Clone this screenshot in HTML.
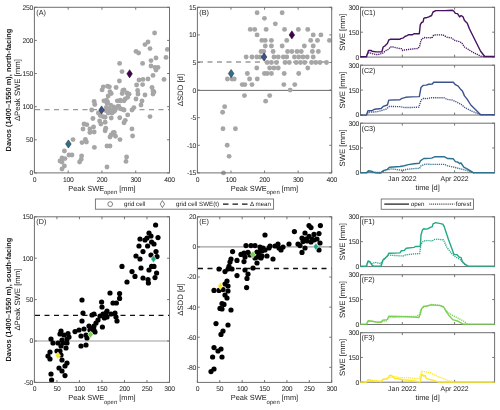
<!DOCTYPE html><html><head><meta charset="utf-8"><style>html,body{margin:0;padding:0;background:#fff;width:500px;height:410px;overflow:hidden}svg{display:block;will-change:transform}text{text-rendering:geometricPrecision}</style></head><body><svg width="500" height="410" viewBox="0 0 500 410">
<style>.t{font-family:"Liberation Sans", sans-serif;font-size:6.8px;fill:#1a1a1a;letter-spacing:-0.3px} .p{font-family:"Liberation Sans", sans-serif;font-size:7.2px;fill:#1a1a1a} .p2{font-family:"Liberation Sans", sans-serif;font-size:6.9px;fill:#1a1a1a} .l{font-family:"Liberation Sans", sans-serif;font-size:7.4px;fill:#1a1a1a} .b{font-family:"Liberation Sans", sans-serif;font-size:7.45px;font-weight:bold;fill:#1a1a1a} .y{font-family:"Liberation Sans", sans-serif;font-size:7.75px;fill:#1a1a1a} .g{font-family:"Liberation Sans", sans-serif;font-size:6.2px;fill:#1a1a1a}</style>
<rect width="500" height="410" fill="#fff"/>
<polyline points="35,109.67 169.5,109.67" fill="none" stroke="#9a9a9a" stroke-width="1.4" stroke-linejoin="round" stroke-dasharray="5,4.5"/>
<g fill="#a6a6a6"><circle cx="103.29" cy="86.83" r="2.45"/><circle cx="107.56" cy="86.22" r="2.45"/><circle cx="109.39" cy="86.83" r="2.45"/><circle cx="116.1" cy="87.44" r="2.45"/><circle cx="102.07" cy="89.88" r="2.45"/><circle cx="110" cy="91.71" r="2.45"/><circle cx="111.22" cy="93.54" r="2.45"/><circle cx="124.02" cy="89.88" r="2.45"/><circle cx="122.2" cy="93.54" r="2.45"/><circle cx="127.07" cy="92.93" r="2.45"/><circle cx="128.9" cy="94.15" r="2.45"/><circle cx="108.17" cy="95.98" r="2.45"/><circle cx="94.15" cy="101.46" r="2.45"/><circle cx="94.76" cy="104.51" r="2.45"/><circle cx="103.9" cy="100.85" r="2.45"/><circle cx="107.56" cy="102.07" r="2.45"/><circle cx="117.32" cy="100.85" r="2.45"/><circle cx="120.37" cy="100.24" r="2.45"/><circle cx="125.24" cy="99.02" r="2.45"/><circle cx="127.68" cy="97.2" r="2.45"/><circle cx="124.02" cy="100.85" r="2.45"/><circle cx="91.71" cy="110" r="2.45"/><circle cx="106.34" cy="107.56" r="2.45"/><circle cx="109.39" cy="108.78" r="2.45"/><circle cx="111.22" cy="110.61" r="2.45"/><circle cx="113.05" cy="111.83" r="2.45"/><circle cx="115.49" cy="109.39" r="2.45"/><circle cx="117.93" cy="106.34" r="2.45"/><circle cx="120.37" cy="108.78" r="2.45"/><circle cx="122.8" cy="109.39" r="2.45"/><circle cx="113.66" cy="106.95" r="2.45"/><circle cx="105.73" cy="110.61" r="2.45"/><circle cx="108.17" cy="113.05" r="2.45"/><circle cx="98.41" cy="113.05" r="2.45"/><circle cx="100.24" cy="115.49" r="2.45"/><circle cx="103.29" cy="116.71" r="2.45"/><circle cx="105.12" cy="117.32" r="2.45"/><circle cx="111.22" cy="117.93" r="2.45"/><circle cx="119.76" cy="117.68" r="2.45"/><circle cx="127.68" cy="114.88" r="2.45"/><circle cx="131.95" cy="110" r="2.45"/><circle cx="92.93" cy="118.54" r="2.45"/><circle cx="99.63" cy="120.98" r="2.45"/><circle cx="105.12" cy="122.2" r="2.45"/><circle cx="100.85" cy="124.02" r="2.45"/><circle cx="125.24" cy="120.37" r="2.45"/><circle cx="124.02" cy="122.8" r="2.45"/><circle cx="86.83" cy="124.63" r="2.45"/><circle cx="93.54" cy="127.07" r="2.45"/><circle cx="89.88" cy="128.9" r="2.45"/><circle cx="94.15" cy="131.95" r="2.45"/><circle cx="89.88" cy="132.56" r="2.45"/><circle cx="105.73" cy="128.29" r="2.45"/><circle cx="105.12" cy="130.73" r="2.45"/><circle cx="114.27" cy="132.56" r="2.45"/><circle cx="131.95" cy="128.9" r="2.45"/><circle cx="154.6" cy="33" r="2.45"/><circle cx="145" cy="44.6" r="2.45"/><circle cx="148" cy="42" r="2.45"/><circle cx="150" cy="48.6" r="2.45"/><circle cx="136" cy="51.4" r="2.45"/><circle cx="138.6" cy="53" r="2.45"/><circle cx="167.4" cy="49.4" r="2.45"/><circle cx="166" cy="57.4" r="2.45"/><circle cx="156" cy="58" r="2.45"/><circle cx="151" cy="60.6" r="2.45"/><circle cx="119.6" cy="63.4" r="2.45"/><circle cx="142.6" cy="63.4" r="2.45"/><circle cx="151" cy="66" r="2.45"/><circle cx="155" cy="67.4" r="2.45"/><circle cx="158" cy="67.4" r="2.45"/><circle cx="156" cy="70" r="2.45"/><circle cx="122" cy="71.6" r="2.45"/><circle cx="153" cy="75.4" r="2.45"/><circle cx="164" cy="79.4" r="2.45"/><circle cx="119.4" cy="81" r="2.45"/><circle cx="139" cy="80" r="2.45"/><circle cx="143" cy="79.4" r="2.45"/><circle cx="148" cy="79" r="2.45"/><circle cx="142.6" cy="84.6" r="2.45"/><circle cx="73" cy="139.6" r="2.45"/><circle cx="82" cy="142.6" r="2.45"/><circle cx="64.4" cy="151" r="2.45"/><circle cx="69" cy="155" r="2.45"/><circle cx="72" cy="155" r="2.45"/><circle cx="62" cy="158" r="2.45"/><circle cx="65" cy="158.6" r="2.45"/><circle cx="60" cy="161" r="2.45"/><circle cx="62" cy="162" r="2.45"/><circle cx="81.6" cy="156" r="2.45"/><circle cx="81.2" cy="159.4" r="2.45"/><circle cx="79.6" cy="162" r="2.45"/><circle cx="64.4" cy="166" r="2.45"/><circle cx="62" cy="169" r="2.45"/><circle cx="83" cy="129" r="2.45"/><circle cx="84" cy="124" r="2.45"/><circle cx="85.4" cy="139.4" r="2.45"/><circle cx="86.4" cy="142" r="2.45"/><circle cx="94.4" cy="147.4" r="2.45"/><circle cx="136" cy="99" r="2.45"/><circle cx="142" cy="101" r="2.45"/><circle cx="141" cy="105" r="2.45"/><circle cx="138" cy="94" r="2.45"/><circle cx="145" cy="95" r="2.45"/><circle cx="153" cy="94" r="2.45"/><circle cx="154" cy="92" r="2.45"/><circle cx="150" cy="116.6" r="2.45"/><circle cx="132.6" cy="136" r="2.45"/><circle cx="120" cy="139.6" r="2.45"/><circle cx="126.6" cy="157" r="2.45"/><circle cx="126" cy="161.4" r="2.45"/><circle cx="107" cy="167" r="2.45"/><circle cx="107" cy="146" r="2.45"/><circle cx="110" cy="146" r="2.45"/><circle cx="107.1" cy="103.3" r="2.45"/><circle cx="110.7" cy="105.1" r="2.45"/><circle cx="114.4" cy="111.2" r="2.45"/><circle cx="118.7" cy="106.3" r="2.45"/><circle cx="124.1" cy="110" r="2.45"/><circle cx="112" cy="113" r="2.45"/><circle cx="106.5" cy="100.2" r="2.45"/><circle cx="133.9" cy="107.6" r="2.45"/><circle cx="122.9" cy="90.5" r="2.45"/><circle cx="129" cy="94.1" r="2.45"/><circle cx="120.5" cy="100.9" r="2.45"/><circle cx="137.6" cy="90.5" r="2.45"/><circle cx="113.2" cy="132.6" r="2.45"/><circle cx="111" cy="135" r="2.45"/><circle cx="113.5" cy="133.2" r="2.45"/><circle cx="115.5" cy="136.2" r="2.45"/><circle cx="110" cy="137" r="2.45"/><circle cx="136.6" cy="85" r="2.45"/><circle cx="152" cy="87.4" r="2.45"/><circle cx="153" cy="91" r="2.45"/></g>
<path d="M68.4 139.9L71.2 144L68.4 148.1L65.6 144Z" fill="#2c728e" stroke="#1a1a1a" stroke-width="0.5"/>
<path d="M101.6 105.9L104.4 110L101.6 114.1L98.8 110Z" fill="#3b528b" stroke="#1a1a1a" stroke-width="0.5"/>
<path d="M129.6 69.7L132.4 73.8L129.6 77.9L126.8 73.8Z" fill="#440154" stroke="#1a1a1a" stroke-width="0.5"/>
<rect x="34.4" y="7.3" width="135.1" height="165.6" fill="none" stroke="#6f6f6f" stroke-width="1"/>
<line x1="34.4" y1="172.9" x2="34.4" y2="170.5" stroke="#6f6f6f" stroke-width="0.95"/>
<line x1="34.4" y1="7.3" x2="34.4" y2="9.7" stroke="#6f6f6f" stroke-width="0.95"/>
<text x="34.4" y="181.5" text-anchor="middle" class="t">0</text>
<line x1="68.17" y1="172.9" x2="68.17" y2="170.5" stroke="#6f6f6f" stroke-width="0.95"/>
<line x1="68.17" y1="7.3" x2="68.17" y2="9.7" stroke="#6f6f6f" stroke-width="0.95"/>
<text x="68.17" y="181.5" text-anchor="middle" class="t">100</text>
<line x1="101.95" y1="172.9" x2="101.95" y2="170.5" stroke="#6f6f6f" stroke-width="0.95"/>
<line x1="101.95" y1="7.3" x2="101.95" y2="9.7" stroke="#6f6f6f" stroke-width="0.95"/>
<text x="101.95" y="181.5" text-anchor="middle" class="t">200</text>
<line x1="135.72" y1="172.9" x2="135.72" y2="170.5" stroke="#6f6f6f" stroke-width="0.95"/>
<line x1="135.72" y1="7.3" x2="135.72" y2="9.7" stroke="#6f6f6f" stroke-width="0.95"/>
<text x="135.72" y="181.5" text-anchor="middle" class="t">300</text>
<line x1="169.5" y1="172.9" x2="169.5" y2="170.5" stroke="#6f6f6f" stroke-width="0.95"/>
<line x1="169.5" y1="7.3" x2="169.5" y2="9.7" stroke="#6f6f6f" stroke-width="0.95"/>
<text x="169.5" y="181.5" text-anchor="middle" class="t">400</text>
<line x1="34.4" y1="172.9" x2="36.8" y2="172.9" stroke="#6f6f6f" stroke-width="0.95"/>
<line x1="169.5" y1="172.9" x2="167.1" y2="172.9" stroke="#6f6f6f" stroke-width="0.95"/>
<text x="32.9" y="175.3" text-anchor="end" class="t">0</text>
<line x1="34.4" y1="139.78" x2="36.8" y2="139.78" stroke="#6f6f6f" stroke-width="0.95"/>
<line x1="169.5" y1="139.78" x2="167.1" y2="139.78" stroke="#6f6f6f" stroke-width="0.95"/>
<text x="32.9" y="142.18" text-anchor="end" class="t">50</text>
<line x1="34.4" y1="106.66" x2="36.8" y2="106.66" stroke="#6f6f6f" stroke-width="0.95"/>
<line x1="169.5" y1="106.66" x2="167.1" y2="106.66" stroke="#6f6f6f" stroke-width="0.95"/>
<text x="32.9" y="109.06" text-anchor="end" class="t">100</text>
<line x1="34.4" y1="73.54" x2="36.8" y2="73.54" stroke="#6f6f6f" stroke-width="0.95"/>
<line x1="169.5" y1="73.54" x2="167.1" y2="73.54" stroke="#6f6f6f" stroke-width="0.95"/>
<text x="32.9" y="75.94" text-anchor="end" class="t">150</text>
<line x1="34.4" y1="40.42" x2="36.8" y2="40.42" stroke="#6f6f6f" stroke-width="0.95"/>
<line x1="169.5" y1="40.42" x2="167.1" y2="40.42" stroke="#6f6f6f" stroke-width="0.95"/>
<text x="32.9" y="42.82" text-anchor="end" class="t">200</text>
<line x1="34.4" y1="7.3" x2="36.8" y2="7.3" stroke="#6f6f6f" stroke-width="0.95"/>
<line x1="169.5" y1="7.3" x2="167.1" y2="7.3" stroke="#6f6f6f" stroke-width="0.95"/>
<text x="32.9" y="9.7" text-anchor="end" class="t">250</text>
<text x="36.3" y="14.7" class="p">(A)</text>
<polyline points="197.4,90.4 331.7,90.4" fill="none" stroke="#5a5a5a" stroke-width="0.9" stroke-linejoin="round"/>
<polyline points="198,61.95 331.7,61.95" fill="none" stroke="#9a9a9a" stroke-width="1.4" stroke-linejoin="round" stroke-dasharray="5,4.5"/>
<g fill="#a6a6a6"><circle cx="257.1" cy="12.82" r="2.45"/><circle cx="264.44" cy="18.34" r="2.45"/><circle cx="250.27" cy="29.38" r="2.45"/><circle cx="254.71" cy="29.38" r="2.45"/><circle cx="266.15" cy="29.38" r="2.45"/><circle cx="257.1" cy="34.9" r="2.45"/><circle cx="261.88" cy="40.42" r="2.45"/><circle cx="265.29" cy="40.42" r="2.45"/><circle cx="265.29" cy="45.94" r="2.45"/><circle cx="261.03" cy="51.46" r="2.45"/><circle cx="246.17" cy="56.98" r="2.45"/><circle cx="251.98" cy="56.98" r="2.45"/><circle cx="256.76" cy="56.98" r="2.45"/><circle cx="260.17" cy="56.98" r="2.45"/><circle cx="256.76" cy="68.02" r="2.45"/><circle cx="247.37" cy="73.54" r="2.45"/><circle cx="264.44" cy="73.54" r="2.45"/><circle cx="282.15" cy="12.82" r="2.45"/><circle cx="275.32" cy="23.86" r="2.45"/><circle cx="284.54" cy="29.38" r="2.45"/><circle cx="298.37" cy="29.38" r="2.45"/><circle cx="307.76" cy="29.38" r="2.45"/><circle cx="313.22" cy="34.9" r="2.45"/><circle cx="320.9" cy="34.9" r="2.45"/><circle cx="271.39" cy="40.42" r="2.45"/><circle cx="286.76" cy="40.42" r="2.45"/><circle cx="310.66" cy="40.42" r="2.45"/><circle cx="317.49" cy="40.42" r="2.45"/><circle cx="329.44" cy="40.42" r="2.45"/><circle cx="271.39" cy="45.94" r="2.45"/><circle cx="282.15" cy="45.94" r="2.45"/><circle cx="304.34" cy="45.94" r="2.45"/><circle cx="313.22" cy="45.94" r="2.45"/><circle cx="263.71" cy="51.46" r="2.45"/><circle cx="273.1" cy="51.46" r="2.45"/><circle cx="287.61" cy="51.46" r="2.45"/><circle cx="291.88" cy="51.46" r="2.45"/><circle cx="297" cy="51.46" r="2.45"/><circle cx="301.27" cy="51.46" r="2.45"/><circle cx="312.37" cy="51.46" r="2.45"/><circle cx="318.34" cy="51.46" r="2.45"/><circle cx="273.95" cy="56.98" r="2.45"/><circle cx="278.22" cy="56.98" r="2.45"/><circle cx="283.34" cy="56.98" r="2.45"/><circle cx="286.76" cy="56.98" r="2.45"/><circle cx="294.44" cy="56.98" r="2.45"/><circle cx="298.71" cy="56.98" r="2.45"/><circle cx="302.98" cy="56.98" r="2.45"/><circle cx="307.25" cy="56.98" r="2.45"/><circle cx="313.22" cy="56.98" r="2.45"/><circle cx="267.12" cy="62.5" r="2.45"/><circle cx="271.39" cy="62.5" r="2.45"/><circle cx="276.51" cy="62.5" r="2.45"/><circle cx="285.05" cy="62.5" r="2.45"/><circle cx="289.32" cy="62.5" r="2.45"/><circle cx="296.15" cy="62.5" r="2.45"/><circle cx="300.42" cy="62.5" r="2.45"/><circle cx="304.68" cy="62.5" r="2.45"/><circle cx="311.51" cy="62.5" r="2.45"/><circle cx="315.78" cy="62.5" r="2.45"/><circle cx="320.05" cy="62.5" r="2.45"/><circle cx="326.54" cy="62.5" r="2.45"/><circle cx="269.68" cy="68.02" r="2.45"/><circle cx="273.95" cy="68.02" r="2.45"/><circle cx="278.22" cy="68.02" r="2.45"/><circle cx="307.76" cy="68.02" r="2.45"/><circle cx="267.12" cy="73.54" r="2.45"/><circle cx="271.39" cy="73.54" r="2.45"/><circle cx="284.2" cy="73.54" r="2.45"/><circle cx="298.71" cy="73.54" r="2.45"/><circle cx="227.39" cy="79.06" r="2.45"/><circle cx="232" cy="79.06" r="2.45"/><circle cx="234.22" cy="79.06" r="2.45"/><circle cx="249.59" cy="79.06" r="2.45"/><circle cx="257.27" cy="79.06" r="2.45"/><circle cx="242.25" cy="84.58" r="2.45"/><circle cx="244.81" cy="84.58" r="2.45"/><circle cx="251.98" cy="84.58" r="2.45"/><circle cx="244.46" cy="95.62" r="2.45"/><circle cx="265.64" cy="101.14" r="2.45"/><circle cx="224.66" cy="106.66" r="2.45"/><circle cx="222.61" cy="112.18" r="2.45"/><circle cx="222.95" cy="128.74" r="2.45"/><circle cx="235.42" cy="128.74" r="2.45"/><circle cx="283.85" cy="84.58" r="2.45"/><circle cx="294.78" cy="84.58" r="2.45"/><circle cx="290.17" cy="90.1" r="2.45"/><circle cx="269.68" cy="95.62" r="2.45"/><circle cx="227.22" cy="145.3" r="2.45"/><circle cx="229.1" cy="156.34" r="2.45"/><circle cx="223.46" cy="172.9" r="2.45"/></g>
<path d="M231.15 69.44L233.95 73.54L231.15 77.64L228.35 73.54Z" fill="#2c728e" stroke="#1a1a1a" stroke-width="0.5"/>
<path d="M264.1 52.88L266.9 56.98L264.1 61.08L261.3 56.98Z" fill="#3b528b" stroke="#1a1a1a" stroke-width="0.5"/>
<path d="M291.88 30.8L294.68 34.9L291.88 39L289.08 34.9Z" fill="#440154" stroke="#1a1a1a" stroke-width="0.5"/>
<rect x="197.4" y="7.3" width="134.3" height="165.6" fill="none" stroke="#6f6f6f" stroke-width="1"/>
<line x1="197.4" y1="172.9" x2="197.4" y2="170.5" stroke="#6f6f6f" stroke-width="0.95"/>
<line x1="197.4" y1="7.3" x2="197.4" y2="9.7" stroke="#6f6f6f" stroke-width="0.95"/>
<text x="197.4" y="181.5" text-anchor="middle" class="t">0</text>
<line x1="230.97" y1="172.9" x2="230.97" y2="170.5" stroke="#6f6f6f" stroke-width="0.95"/>
<line x1="230.97" y1="7.3" x2="230.97" y2="9.7" stroke="#6f6f6f" stroke-width="0.95"/>
<text x="230.97" y="181.5" text-anchor="middle" class="t">100</text>
<line x1="264.55" y1="172.9" x2="264.55" y2="170.5" stroke="#6f6f6f" stroke-width="0.95"/>
<line x1="264.55" y1="7.3" x2="264.55" y2="9.7" stroke="#6f6f6f" stroke-width="0.95"/>
<text x="264.55" y="181.5" text-anchor="middle" class="t">200</text>
<line x1="298.12" y1="172.9" x2="298.12" y2="170.5" stroke="#6f6f6f" stroke-width="0.95"/>
<line x1="298.12" y1="7.3" x2="298.12" y2="9.7" stroke="#6f6f6f" stroke-width="0.95"/>
<text x="298.12" y="181.5" text-anchor="middle" class="t">300</text>
<line x1="331.7" y1="172.9" x2="331.7" y2="170.5" stroke="#6f6f6f" stroke-width="0.95"/>
<line x1="331.7" y1="7.3" x2="331.7" y2="9.7" stroke="#6f6f6f" stroke-width="0.95"/>
<text x="331.7" y="181.5" text-anchor="middle" class="t">400</text>
<line x1="197.4" y1="172.9" x2="199.8" y2="172.9" stroke="#6f6f6f" stroke-width="0.95"/>
<line x1="331.7" y1="172.9" x2="329.3" y2="172.9" stroke="#6f6f6f" stroke-width="0.95"/>
<text x="195.9" y="175.3" text-anchor="end" class="t">-15</text>
<line x1="197.4" y1="145.3" x2="199.8" y2="145.3" stroke="#6f6f6f" stroke-width="0.95"/>
<line x1="331.7" y1="145.3" x2="329.3" y2="145.3" stroke="#6f6f6f" stroke-width="0.95"/>
<text x="195.9" y="147.7" text-anchor="end" class="t">-10</text>
<line x1="197.4" y1="117.7" x2="199.8" y2="117.7" stroke="#6f6f6f" stroke-width="0.95"/>
<line x1="331.7" y1="117.7" x2="329.3" y2="117.7" stroke="#6f6f6f" stroke-width="0.95"/>
<text x="195.9" y="120.1" text-anchor="end" class="t">-5</text>
<line x1="197.4" y1="90.1" x2="199.8" y2="90.1" stroke="#6f6f6f" stroke-width="0.95"/>
<line x1="331.7" y1="90.1" x2="329.3" y2="90.1" stroke="#6f6f6f" stroke-width="0.95"/>
<text x="195.9" y="92.5" text-anchor="end" class="t">0</text>
<line x1="197.4" y1="62.5" x2="199.8" y2="62.5" stroke="#6f6f6f" stroke-width="0.95"/>
<line x1="331.7" y1="62.5" x2="329.3" y2="62.5" stroke="#6f6f6f" stroke-width="0.95"/>
<text x="195.9" y="64.9" text-anchor="end" class="t">5</text>
<line x1="197.4" y1="34.9" x2="199.8" y2="34.9" stroke="#6f6f6f" stroke-width="0.95"/>
<line x1="331.7" y1="34.9" x2="329.3" y2="34.9" stroke="#6f6f6f" stroke-width="0.95"/>
<text x="195.9" y="37.3" text-anchor="end" class="t">10</text>
<line x1="197.4" y1="7.3" x2="199.8" y2="7.3" stroke="#6f6f6f" stroke-width="0.95"/>
<line x1="331.7" y1="7.3" x2="329.3" y2="7.3" stroke="#6f6f6f" stroke-width="0.95"/>
<text x="195.9" y="9.7" text-anchor="end" class="t">15</text>
<text x="199.3" y="14.7" class="p">(B)</text>
<rect x="360.5" y="7.3" width="134.1" height="49.8" fill="none" stroke="#6f6f6f" stroke-width="1"/>
<line x1="402.3" y1="57.1" x2="402.3" y2="54.7" stroke="#6f6f6f" stroke-width="0.95"/>
<line x1="402.3" y1="7.3" x2="402.3" y2="9.7" stroke="#6f6f6f" stroke-width="0.95"/>
<line x1="454.6" y1="57.1" x2="454.6" y2="54.7" stroke="#6f6f6f" stroke-width="0.95"/>
<line x1="454.6" y1="7.3" x2="454.6" y2="9.7" stroke="#6f6f6f" stroke-width="0.95"/>
<line x1="360.5" y1="57.1" x2="362.9" y2="57.1" stroke="#6f6f6f" stroke-width="0.95"/>
<line x1="494.6" y1="57.1" x2="492.2" y2="57.1" stroke="#6f6f6f" stroke-width="0.95"/>
<text x="359" y="59.5" text-anchor="end" class="t">0</text>
<line x1="360.5" y1="32.2" x2="362.9" y2="32.2" stroke="#6f6f6f" stroke-width="0.95"/>
<line x1="494.6" y1="32.2" x2="492.2" y2="32.2" stroke="#6f6f6f" stroke-width="0.95"/>
<text x="359" y="34.6" text-anchor="end" class="t">150</text>
<line x1="360.5" y1="7.3" x2="362.9" y2="7.3" stroke="#6f6f6f" stroke-width="0.95"/>
<line x1="494.6" y1="7.3" x2="492.2" y2="7.3" stroke="#6f6f6f" stroke-width="0.95"/>
<text x="359" y="9.7" text-anchor="end" class="t">300</text>
<polyline points="366.4,56.8 367.8,53.3 369.2,52.6 373.4,54 377.6,54.7 382.5,53.3 386,50.5 388.8,49.1 390.2,47 393,47 398.6,48.4 401.4,48.68 402.8,50.5 405.6,49.8 411.2,49.1 418.2,48.4 419.6,46.3 420.72,41.4 421.7,39.3 423.8,37.48 426,37.9 430.2,37.48 431.6,38.32 433.7,35.1 435.8,34.82 442.8,34.82 447,37.2 451.2,37.9 455.4,40.7 459.6,41.68 461.7,42.8 464.5,47 472.2,51.9 480.6,56.1 484.8,56.8" fill="none" stroke="#461262" stroke-width="1.35" stroke-linejoin="round" stroke-dasharray="1.2,0.9"/>
<polyline points="360.1,56.8 366.4,56.8 367.8,52.6 368.5,50.5 371.3,50.5 372,51.2 376.2,51.9 381.8,51.9 383.2,47 385.3,45.6 387.4,43.5 388.8,40 390.2,39.3 400,39.3 400.7,38.6 402.8,38.18 404.9,36.5 407,35.52 408.4,34.82 412.6,34.68 414,33.7 419.32,33.7 420.3,24.6 421.7,22.5 423.1,21.8 423.8,18.3 425.2,17.6 426,17.88 428.8,16.9 431.6,15.5 433,12 435.8,10.6 444.2,10.6 452.6,10.32 454,11.3 455.4,13.4 457.5,13.68 459.6,16.9 461,15.5 463.1,16.9 464.5,20.4 467.3,23.2 469.4,28.8 475,40 480.6,51.2 484.8,56.52 494.6,56.52" fill="none" stroke="#461262" stroke-width="1.4" stroke-linejoin="round"/>
<text x="361.5" y="14.7" class="p">(C1)</text>
<rect x="360.5" y="65.2" width="134.1" height="49.8" fill="none" stroke="#6f6f6f" stroke-width="1"/>
<line x1="402.3" y1="115" x2="402.3" y2="112.6" stroke="#6f6f6f" stroke-width="0.95"/>
<line x1="402.3" y1="65.2" x2="402.3" y2="67.6" stroke="#6f6f6f" stroke-width="0.95"/>
<line x1="454.6" y1="115" x2="454.6" y2="112.6" stroke="#6f6f6f" stroke-width="0.95"/>
<line x1="454.6" y1="65.2" x2="454.6" y2="67.6" stroke="#6f6f6f" stroke-width="0.95"/>
<line x1="360.5" y1="115" x2="362.9" y2="115" stroke="#6f6f6f" stroke-width="0.95"/>
<line x1="494.6" y1="115" x2="492.2" y2="115" stroke="#6f6f6f" stroke-width="0.95"/>
<text x="359" y="117.4" text-anchor="end" class="t">0</text>
<line x1="360.5" y1="90.1" x2="362.9" y2="90.1" stroke="#6f6f6f" stroke-width="0.95"/>
<line x1="494.6" y1="90.1" x2="492.2" y2="90.1" stroke="#6f6f6f" stroke-width="0.95"/>
<text x="359" y="92.5" text-anchor="end" class="t">150</text>
<line x1="360.5" y1="65.2" x2="362.9" y2="65.2" stroke="#6f6f6f" stroke-width="0.95"/>
<line x1="494.6" y1="65.2" x2="492.2" y2="65.2" stroke="#6f6f6f" stroke-width="0.95"/>
<text x="359" y="67.6" text-anchor="end" class="t">300</text>
<polyline points="366.4,115.08 368.5,112 374.8,112 379,111.3 386,109.2 389.5,106.4 400,106.68 404.2,107.52 411.2,107.52 418.9,107.1 421,100.1 423.8,98.28 426,98.7 431.6,97.72 444.2,97.72 447,99.4 452.6,100.1 456.8,102.2 461,104.3 465.2,107.8 472.2,111.3 479.2,114.1 481.3,115.08" fill="none" stroke="#3b528b" stroke-width="1.35" stroke-linejoin="round" stroke-dasharray="1.2,0.9"/>
<polyline points="360.1,115.08 366.4,115.08 368.08,110.6 372,110.6 374.8,109.2 381.1,108.5 383.2,106.4 387.4,105 388.8,100.1 400,99.68 401.4,98.7 405.6,97.3 411.2,96.88 419.32,96.6 421,87.5 423.1,85.4 426,85.12 428.8,84.28 432.3,84 433.7,82.32 453.3,82.32 455.4,84.7 458.2,86.1 460.3,88.9 462.4,91 464.5,95.9 467.3,99.4 470.8,105 476.4,110.6 480.6,114.8 494.6,114.8" fill="none" stroke="#3b528b" stroke-width="1.4" stroke-linejoin="round"/>
<text x="361.5" y="72.6" class="p">(C2)</text>
<rect x="360.5" y="123.2" width="134.1" height="49.5" fill="none" stroke="#6f6f6f" stroke-width="1"/>
<line x1="402.3" y1="172.7" x2="402.3" y2="170.3" stroke="#6f6f6f" stroke-width="0.95"/>
<line x1="402.3" y1="123.2" x2="402.3" y2="125.6" stroke="#6f6f6f" stroke-width="0.95"/>
<text x="402.3" y="181.3" text-anchor="middle" class="p2">Jan 2022</text>
<line x1="454.6" y1="172.7" x2="454.6" y2="170.3" stroke="#6f6f6f" stroke-width="0.95"/>
<line x1="454.6" y1="123.2" x2="454.6" y2="125.6" stroke="#6f6f6f" stroke-width="0.95"/>
<text x="454.6" y="181.3" text-anchor="middle" class="p2">Apr 2022</text>
<line x1="360.5" y1="172.7" x2="362.9" y2="172.7" stroke="#6f6f6f" stroke-width="0.95"/>
<line x1="494.6" y1="172.7" x2="492.2" y2="172.7" stroke="#6f6f6f" stroke-width="0.95"/>
<text x="359" y="175.1" text-anchor="end" class="t">0</text>
<line x1="360.5" y1="147.95" x2="362.9" y2="147.95" stroke="#6f6f6f" stroke-width="0.95"/>
<line x1="494.6" y1="147.95" x2="492.2" y2="147.95" stroke="#6f6f6f" stroke-width="0.95"/>
<text x="359" y="150.35" text-anchor="end" class="t">150</text>
<line x1="360.5" y1="123.2" x2="362.9" y2="123.2" stroke="#6f6f6f" stroke-width="0.95"/>
<line x1="494.6" y1="123.2" x2="492.2" y2="123.2" stroke="#6f6f6f" stroke-width="0.95"/>
<text x="359" y="125.6" text-anchor="end" class="t">300</text>
<polyline points="366.4,172.8 369.2,171.68 372,172.52 381.8,172.52 386,170 391.6,168.88 400,170 402.8,170.28 407,169.3 414,168.6 419.6,168.32 421,165.8 425.2,164.12 426,164.12 431.6,164.4 444.2,164.4 448.4,166.08 454,167.2 459.6,168.6 465.2,170 470.8,171.68 473.6,173.08" fill="none" stroke="#2c728e" stroke-width="1.35" stroke-linejoin="round" stroke-dasharray="1.2,0.9"/>
<polyline points="360.1,172.8 366.4,172.8 368.5,170.7 371.3,171.12 373.4,172.1 376.2,172.8 380.4,173.08 383.2,170.7 387.4,169.3 389.5,167.2 400,166.5 404.2,165.8 408.4,164.68 414,163.7 419.32,163.28 420.3,160.9 423.8,158.52 426,158.52 431.6,158.1 435.1,156.7 444.2,156.7 447.7,158.52 453.3,158.8 455.4,161.6 458.2,162.3 459.6,163.7 461,163 463.8,167.2 468,169.3 473.6,172.8 494.6,172.8" fill="none" stroke="#2c728e" stroke-width="1.4" stroke-linejoin="round"/>
<text x="361.5" y="130.6" class="p">(C3)</text>
<polyline points="34.4,341 169.5,341" fill="none" stroke="#9e9e9e" stroke-width="1.2" stroke-linejoin="round"/>
<polyline points="35,315.33 169.5,315.33" fill="none" stroke="#111" stroke-width="1.4" stroke-linejoin="round" stroke-dasharray="5,4.5"/>
<g fill="#000"><circle cx="82" cy="300" r="2.6"/><circle cx="83" cy="313" r="2.6"/><circle cx="92" cy="315" r="2.6"/><circle cx="94" cy="314" r="2.6"/><circle cx="82" cy="321" r="2.6"/><circle cx="98" cy="320" r="2.6"/><circle cx="96" cy="323" r="2.6"/><circle cx="94" cy="326" r="2.6"/><circle cx="89" cy="326" r="2.6"/><circle cx="84" cy="329" r="2.6"/><circle cx="90" cy="330" r="2.6"/><circle cx="94" cy="330" r="2.6"/><circle cx="75" cy="331.6" r="2.6"/><circle cx="79" cy="330" r="2.6"/><circle cx="81" cy="336" r="2.6"/><circle cx="86" cy="335" r="2.6"/><circle cx="87" cy="338" r="2.6"/><circle cx="95" cy="332" r="2.6"/><circle cx="93" cy="328" r="2.6"/><circle cx="61" cy="331" r="2.6"/><circle cx="60" cy="334" r="2.6"/><circle cx="64" cy="335" r="2.6"/><circle cx="68" cy="333.6" r="2.6"/><circle cx="69" cy="337" r="2.6"/><circle cx="67" cy="339" r="2.6"/><circle cx="51" cy="339" r="2.6"/><circle cx="53" cy="343" r="2.6"/><circle cx="58" cy="343" r="2.6"/><circle cx="62" cy="340" r="2.6"/><circle cx="63" cy="343" r="2.6"/><circle cx="67" cy="343" r="2.6"/><circle cx="61" cy="346" r="2.6"/><circle cx="81" cy="346" r="2.6"/><circle cx="86" cy="345" r="2.6"/><circle cx="66" cy="348" r="2.6"/><circle cx="50" cy="352" r="2.6"/><circle cx="48" cy="356" r="2.6"/><circle cx="50" cy="359" r="2.6"/><circle cx="57" cy="351" r="2.6"/><circle cx="60" cy="351" r="2.6"/><circle cx="61" cy="355" r="2.6"/><circle cx="62" cy="360" r="2.6"/><circle cx="67" cy="363" r="2.6"/><circle cx="65" cy="366" r="2.6"/><circle cx="59" cy="368" r="2.6"/><circle cx="62" cy="371" r="2.6"/><circle cx="51" cy="374" r="2.6"/><circle cx="65" cy="375.6" r="2.6"/><circle cx="51.6" cy="380" r="2.6"/><circle cx="155.6" cy="225" r="2.6"/><circle cx="149" cy="233" r="2.6"/><circle cx="151" cy="236" r="2.6"/><circle cx="147" cy="238" r="2.6"/><circle cx="145" cy="240" r="2.6"/><circle cx="140" cy="239" r="2.6"/><circle cx="158" cy="237.6" r="2.6"/><circle cx="139" cy="246" r="2.6"/><circle cx="147.6" cy="246" r="2.6"/><circle cx="151.6" cy="242" r="2.6"/><circle cx="154" cy="244" r="2.6"/><circle cx="143" cy="251.6" r="2.6"/><circle cx="151" cy="255" r="2.6"/><circle cx="156" cy="251.6" r="2.6"/><circle cx="157" cy="256.6" r="2.6"/><circle cx="136" cy="256" r="2.6"/><circle cx="140" cy="259" r="2.6"/><circle cx="122" cy="266.4" r="2.6"/><circle cx="141" cy="268" r="2.6"/><circle cx="149" cy="270" r="2.6"/><circle cx="151.6" cy="266.4" r="2.6"/><circle cx="154" cy="266.4" r="2.6"/><circle cx="132" cy="271.6" r="2.6"/><circle cx="135" cy="276.4" r="2.6"/><circle cx="156.6" cy="273" r="2.6"/><circle cx="155" cy="277.6" r="2.6"/><circle cx="143" cy="278" r="2.6"/><circle cx="148" cy="279.6" r="2.6"/><circle cx="148.4" cy="283" r="2.6"/><circle cx="127" cy="282" r="2.6"/><circle cx="110" cy="293" r="2.6"/><circle cx="119.6" cy="293.6" r="2.6"/><circle cx="119.6" cy="298.4" r="2.6"/><circle cx="113" cy="303" r="2.6"/><circle cx="116.4" cy="303" r="2.6"/><circle cx="101.6" cy="302" r="2.6"/><circle cx="102" cy="307" r="2.6"/><circle cx="107" cy="311" r="2.6"/><circle cx="106" cy="313" r="2.6"/><circle cx="103" cy="314" r="2.6"/><circle cx="100" cy="316" r="2.6"/><circle cx="104.4" cy="318" r="2.6"/><circle cx="107" cy="317" r="2.6"/><circle cx="111" cy="314" r="2.6"/><circle cx="115" cy="313" r="2.6"/><circle cx="116" cy="317" r="2.6"/><circle cx="117" cy="321" r="2.6"/><circle cx="102.4" cy="327" r="2.6"/></g>
<path d="M57.9 351.9L60.6 355.6L57.9 359.3L55.2 355.6Z" fill="#fde725" stroke="#fff" stroke-width="0.5"/>
<path d="M90.5 330.9L93.2 334.6L90.5 338.3L87.8 334.6Z" fill="#7ad151" stroke="#fff" stroke-width="0.5"/>
<path d="M153.5 255.3L156.2 259L153.5 262.7L150.8 259Z" fill="#22a884" stroke="#fff" stroke-width="0.5"/>
<rect x="34.4" y="216.8" width="135.1" height="165.6" fill="none" stroke="#6f6f6f" stroke-width="1"/>
<line x1="34.4" y1="382.4" x2="34.4" y2="380" stroke="#6f6f6f" stroke-width="0.95"/>
<line x1="34.4" y1="216.8" x2="34.4" y2="219.2" stroke="#6f6f6f" stroke-width="0.95"/>
<text x="34.4" y="391" text-anchor="middle" class="t">0</text>
<line x1="56.92" y1="382.4" x2="56.92" y2="380" stroke="#6f6f6f" stroke-width="0.95"/>
<line x1="56.92" y1="216.8" x2="56.92" y2="219.2" stroke="#6f6f6f" stroke-width="0.95"/>
<text x="56.92" y="391" text-anchor="middle" class="t">50</text>
<line x1="79.43" y1="382.4" x2="79.43" y2="380" stroke="#6f6f6f" stroke-width="0.95"/>
<line x1="79.43" y1="216.8" x2="79.43" y2="219.2" stroke="#6f6f6f" stroke-width="0.95"/>
<text x="79.43" y="391" text-anchor="middle" class="t">100</text>
<line x1="101.95" y1="382.4" x2="101.95" y2="380" stroke="#6f6f6f" stroke-width="0.95"/>
<line x1="101.95" y1="216.8" x2="101.95" y2="219.2" stroke="#6f6f6f" stroke-width="0.95"/>
<text x="101.95" y="391" text-anchor="middle" class="t">150</text>
<line x1="124.47" y1="382.4" x2="124.47" y2="380" stroke="#6f6f6f" stroke-width="0.95"/>
<line x1="124.47" y1="216.8" x2="124.47" y2="219.2" stroke="#6f6f6f" stroke-width="0.95"/>
<text x="124.47" y="391" text-anchor="middle" class="t">200</text>
<line x1="146.98" y1="382.4" x2="146.98" y2="380" stroke="#6f6f6f" stroke-width="0.95"/>
<line x1="146.98" y1="216.8" x2="146.98" y2="219.2" stroke="#6f6f6f" stroke-width="0.95"/>
<text x="146.98" y="391" text-anchor="middle" class="t">250</text>
<line x1="169.5" y1="382.4" x2="169.5" y2="380" stroke="#6f6f6f" stroke-width="0.95"/>
<line x1="169.5" y1="216.8" x2="169.5" y2="219.2" stroke="#6f6f6f" stroke-width="0.95"/>
<text x="169.5" y="391" text-anchor="middle" class="t">300</text>
<line x1="34.4" y1="382.4" x2="36.8" y2="382.4" stroke="#6f6f6f" stroke-width="0.95"/>
<line x1="169.5" y1="382.4" x2="167.1" y2="382.4" stroke="#6f6f6f" stroke-width="0.95"/>
<text x="32.9" y="384.8" text-anchor="end" class="t">-50</text>
<line x1="34.4" y1="341" x2="36.8" y2="341" stroke="#6f6f6f" stroke-width="0.95"/>
<line x1="169.5" y1="341" x2="167.1" y2="341" stroke="#6f6f6f" stroke-width="0.95"/>
<text x="32.9" y="343.4" text-anchor="end" class="t">0</text>
<line x1="34.4" y1="299.6" x2="36.8" y2="299.6" stroke="#6f6f6f" stroke-width="0.95"/>
<line x1="169.5" y1="299.6" x2="167.1" y2="299.6" stroke="#6f6f6f" stroke-width="0.95"/>
<text x="32.9" y="302" text-anchor="end" class="t">50</text>
<line x1="34.4" y1="258.2" x2="36.8" y2="258.2" stroke="#6f6f6f" stroke-width="0.95"/>
<line x1="169.5" y1="258.2" x2="167.1" y2="258.2" stroke="#6f6f6f" stroke-width="0.95"/>
<text x="32.9" y="260.6" text-anchor="end" class="t">100</text>
<line x1="34.4" y1="216.8" x2="36.8" y2="216.8" stroke="#6f6f6f" stroke-width="0.95"/>
<line x1="169.5" y1="216.8" x2="167.1" y2="216.8" stroke="#6f6f6f" stroke-width="0.95"/>
<text x="32.9" y="219.2" text-anchor="end" class="t">150</text>
<text x="36.3" y="224.2" class="p">(D)</text>
<polyline points="197.4,246.91 331.7,246.91" fill="none" stroke="#9e9e9e" stroke-width="1.2" stroke-linejoin="round"/>
<polyline points="198,268.44 331.7,268.44" fill="none" stroke="#111" stroke-width="1.4" stroke-linejoin="round" stroke-dasharray="5,4.5"/>
<g fill="#000"><circle cx="222" cy="303.6" r="2.6"/><circle cx="224" cy="304.4" r="2.6"/><circle cx="220" cy="308.4" r="2.6"/><circle cx="222" cy="309" r="2.6"/><circle cx="231" cy="310" r="2.6"/><circle cx="216" cy="323.6" r="2.6"/><circle cx="228" cy="325" r="2.6"/><circle cx="223" cy="331" r="2.6"/><circle cx="221" cy="334.4" r="2.6"/><circle cx="214" cy="347.6" r="2.6"/><circle cx="218" cy="351" r="2.6"/><circle cx="221" cy="349" r="2.6"/><circle cx="212.6" cy="357" r="2.6"/><circle cx="222" cy="357" r="2.6"/><circle cx="214" cy="369" r="2.6"/><circle cx="211" cy="371.6" r="2.6"/><circle cx="246" cy="245.6" r="2.6"/><circle cx="251" cy="245.6" r="2.6"/><circle cx="255" cy="245.6" r="2.6"/><circle cx="232.6" cy="251.6" r="2.6"/><circle cx="241" cy="254.4" r="2.6"/><circle cx="244" cy="253" r="2.6"/><circle cx="248" cy="252.4" r="2.6"/><circle cx="250" cy="255" r="2.6"/><circle cx="257" cy="252" r="2.6"/><circle cx="258" cy="257" r="2.6"/><circle cx="231" cy="259" r="2.6"/><circle cx="237" cy="260.4" r="2.6"/><circle cx="244" cy="261.6" r="2.6"/><circle cx="230" cy="262" r="2.6"/><circle cx="229" cy="266.4" r="2.6"/><circle cx="228" cy="269" r="2.6"/><circle cx="232" cy="269" r="2.6"/><circle cx="257" cy="263" r="2.6"/><circle cx="219" cy="269" r="2.6"/><circle cx="225" cy="271.6" r="2.6"/><circle cx="253" cy="268" r="2.6"/><circle cx="245" cy="270" r="2.6"/><circle cx="248" cy="274" r="2.6"/><circle cx="247" cy="278.4" r="2.6"/><circle cx="237" cy="275.6" r="2.6"/><circle cx="227" cy="281" r="2.6"/><circle cx="225" cy="284" r="2.6"/><circle cx="228" cy="286" r="2.6"/><circle cx="214" cy="290.4" r="2.6"/><circle cx="219" cy="290.4" r="2.6"/><circle cx="223" cy="289.6" r="2.6"/><circle cx="228" cy="291" r="2.6"/><circle cx="225" cy="295" r="2.6"/><circle cx="227" cy="298" r="2.6"/><circle cx="246.6" cy="287.6" r="2.6"/><circle cx="265" cy="235" r="2.6"/><circle cx="294.4" cy="231.6" r="2.6"/><circle cx="309" cy="225.6" r="2.6"/><circle cx="311" cy="227.6" r="2.6"/><circle cx="320.4" cy="225.6" r="2.6"/><circle cx="305" cy="233" r="2.6"/><circle cx="314" cy="234.4" r="2.6"/><circle cx="319" cy="233.6" r="2.6"/><circle cx="309" cy="236.4" r="2.6"/><circle cx="302" cy="238" r="2.6"/><circle cx="306" cy="239" r="2.6"/><circle cx="312" cy="239" r="2.6"/><circle cx="317" cy="239" r="2.6"/><circle cx="298" cy="244" r="2.6"/><circle cx="300" cy="245.6" r="2.6"/><circle cx="303" cy="241.6" r="2.6"/><circle cx="307" cy="241" r="2.6"/><circle cx="311" cy="242" r="2.6"/><circle cx="314" cy="240" r="2.6"/><circle cx="320" cy="243" r="2.6"/><circle cx="305" cy="248" r="2.6"/><circle cx="319" cy="250" r="2.6"/><circle cx="302" cy="252.4" r="2.6"/><circle cx="260" cy="247" r="2.6"/><circle cx="263" cy="248" r="2.6"/><circle cx="265" cy="250" r="2.6"/><circle cx="269" cy="248" r="2.6"/><circle cx="270" cy="246" r="2.6"/><circle cx="275" cy="246" r="2.6"/><circle cx="278" cy="244" r="2.6"/><circle cx="279" cy="248" r="2.6"/><circle cx="281" cy="250" r="2.6"/><circle cx="283" cy="247" r="2.6"/><circle cx="289" cy="244" r="2.6"/><circle cx="267" cy="256" r="2.6"/><circle cx="273" cy="259" r="2.6"/><circle cx="261" cy="258" r="2.6"/><circle cx="262" cy="251" r="2.6"/><circle cx="259" cy="254" r="2.6"/><circle cx="260.6" cy="250" r="2.6"/><circle cx="245" cy="257" r="2.6"/><circle cx="255" cy="258" r="2.6"/><circle cx="262" cy="256" r="2.6"/></g>
<path d="M220.3 282.3L223 286L220.3 289.7L217.6 286Z" fill="#fde725" stroke="#fff" stroke-width="0.5"/>
<path d="M252.9 250.9L255.6 254.6L252.9 258.3L250.2 254.6Z" fill="#7ad151" stroke="#fff" stroke-width="0.5"/>
<path d="M315.9 242.9L318.6 246.6L315.9 250.3L313.2 246.6Z" fill="#22a884" stroke="#fff" stroke-width="0.5"/>
<rect x="197.4" y="216.8" width="134.3" height="165.6" fill="none" stroke="#6f6f6f" stroke-width="1"/>
<line x1="197.4" y1="382.4" x2="197.4" y2="380" stroke="#6f6f6f" stroke-width="0.95"/>
<line x1="197.4" y1="216.8" x2="197.4" y2="219.2" stroke="#6f6f6f" stroke-width="0.95"/>
<text x="197.4" y="391" text-anchor="middle" class="t">0</text>
<line x1="219.78" y1="382.4" x2="219.78" y2="380" stroke="#6f6f6f" stroke-width="0.95"/>
<line x1="219.78" y1="216.8" x2="219.78" y2="219.2" stroke="#6f6f6f" stroke-width="0.95"/>
<text x="219.78" y="391" text-anchor="middle" class="t">50</text>
<line x1="242.17" y1="382.4" x2="242.17" y2="380" stroke="#6f6f6f" stroke-width="0.95"/>
<line x1="242.17" y1="216.8" x2="242.17" y2="219.2" stroke="#6f6f6f" stroke-width="0.95"/>
<text x="242.17" y="391" text-anchor="middle" class="t">100</text>
<line x1="264.55" y1="382.4" x2="264.55" y2="380" stroke="#6f6f6f" stroke-width="0.95"/>
<line x1="264.55" y1="216.8" x2="264.55" y2="219.2" stroke="#6f6f6f" stroke-width="0.95"/>
<text x="264.55" y="391" text-anchor="middle" class="t">150</text>
<line x1="286.93" y1="382.4" x2="286.93" y2="380" stroke="#6f6f6f" stroke-width="0.95"/>
<line x1="286.93" y1="216.8" x2="286.93" y2="219.2" stroke="#6f6f6f" stroke-width="0.95"/>
<text x="286.93" y="391" text-anchor="middle" class="t">200</text>
<line x1="309.32" y1="382.4" x2="309.32" y2="380" stroke="#6f6f6f" stroke-width="0.95"/>
<line x1="309.32" y1="216.8" x2="309.32" y2="219.2" stroke="#6f6f6f" stroke-width="0.95"/>
<text x="309.32" y="391" text-anchor="middle" class="t">250</text>
<line x1="331.7" y1="382.4" x2="331.7" y2="380" stroke="#6f6f6f" stroke-width="0.95"/>
<line x1="331.7" y1="216.8" x2="331.7" y2="219.2" stroke="#6f6f6f" stroke-width="0.95"/>
<text x="331.7" y="391" text-anchor="middle" class="t">300</text>
<line x1="197.4" y1="367.35" x2="199.8" y2="367.35" stroke="#6f6f6f" stroke-width="0.95"/>
<line x1="331.7" y1="367.35" x2="329.3" y2="367.35" stroke="#6f6f6f" stroke-width="0.95"/>
<text x="195.9" y="369.75" text-anchor="end" class="t">-80</text>
<line x1="197.4" y1="337.24" x2="199.8" y2="337.24" stroke="#6f6f6f" stroke-width="0.95"/>
<line x1="331.7" y1="337.24" x2="329.3" y2="337.24" stroke="#6f6f6f" stroke-width="0.95"/>
<text x="195.9" y="339.64" text-anchor="end" class="t">-60</text>
<line x1="197.4" y1="307.13" x2="199.8" y2="307.13" stroke="#6f6f6f" stroke-width="0.95"/>
<line x1="331.7" y1="307.13" x2="329.3" y2="307.13" stroke="#6f6f6f" stroke-width="0.95"/>
<text x="195.9" y="309.53" text-anchor="end" class="t">-40</text>
<line x1="197.4" y1="277.02" x2="199.8" y2="277.02" stroke="#6f6f6f" stroke-width="0.95"/>
<line x1="331.7" y1="277.02" x2="329.3" y2="277.02" stroke="#6f6f6f" stroke-width="0.95"/>
<text x="195.9" y="279.42" text-anchor="end" class="t">-20</text>
<line x1="197.4" y1="246.91" x2="199.8" y2="246.91" stroke="#6f6f6f" stroke-width="0.95"/>
<line x1="331.7" y1="246.91" x2="329.3" y2="246.91" stroke="#6f6f6f" stroke-width="0.95"/>
<text x="195.9" y="249.31" text-anchor="end" class="t">0</text>
<line x1="197.4" y1="216.8" x2="199.8" y2="216.8" stroke="#6f6f6f" stroke-width="0.95"/>
<line x1="331.7" y1="216.8" x2="329.3" y2="216.8" stroke="#6f6f6f" stroke-width="0.95"/>
<text x="195.9" y="219.2" text-anchor="end" class="t">20</text>
<text x="199.3" y="224.2" class="p">(E)</text>
<rect x="360.5" y="216.8" width="134.1" height="49.8" fill="none" stroke="#6f6f6f" stroke-width="1"/>
<line x1="402.3" y1="266.6" x2="402.3" y2="264.2" stroke="#6f6f6f" stroke-width="0.95"/>
<line x1="402.3" y1="216.8" x2="402.3" y2="219.2" stroke="#6f6f6f" stroke-width="0.95"/>
<line x1="454.6" y1="266.6" x2="454.6" y2="264.2" stroke="#6f6f6f" stroke-width="0.95"/>
<line x1="454.6" y1="216.8" x2="454.6" y2="219.2" stroke="#6f6f6f" stroke-width="0.95"/>
<line x1="360.5" y1="266.6" x2="362.9" y2="266.6" stroke="#6f6f6f" stroke-width="0.95"/>
<line x1="494.6" y1="266.6" x2="492.2" y2="266.6" stroke="#6f6f6f" stroke-width="0.95"/>
<text x="359" y="269" text-anchor="end" class="t">0</text>
<line x1="360.5" y1="241.7" x2="362.9" y2="241.7" stroke="#6f6f6f" stroke-width="0.95"/>
<line x1="494.6" y1="241.7" x2="492.2" y2="241.7" stroke="#6f6f6f" stroke-width="0.95"/>
<text x="359" y="244.1" text-anchor="end" class="t">150</text>
<line x1="360.5" y1="216.8" x2="362.9" y2="216.8" stroke="#6f6f6f" stroke-width="0.95"/>
<line x1="494.6" y1="216.8" x2="492.2" y2="216.8" stroke="#6f6f6f" stroke-width="0.95"/>
<text x="359" y="219.2" text-anchor="end" class="t">300</text>
<polyline points="366.4,266.08 368.5,261.6 370.6,263 372.7,263.7 374.8,262.3 380.4,263.7 383.2,260.2 388.8,254.88 391.6,255.3 402.8,256 405.6,254.88 414,253.9 419.6,253.62 421,244.1 423.1,241.3 426,240.6 430.2,240.6 431.6,241.3 434.4,239.48 437.2,239.2 443.5,239.9 447,247.6 452.6,254.6 455.4,256.7 461,260.2 463.8,263.7 466.6,265.52" fill="none" stroke="#22a884" stroke-width="1.35" stroke-linejoin="round" stroke-dasharray="1.2,0.9"/>
<polyline points="360.1,266.08 366.4,266.08 368.08,260.9 369.9,261.6 372,265.1 373.4,266.08 381.1,266.08 383.2,259.5 385.3,258.1 387.4,256 388.8,253.2 400,252.92 401.4,250.68 404.2,250.4 406.3,248.3 414,247.32 415.4,246.48 420.3,246.2 421,235 422.4,230.1 423.8,228.7 426,229.12 428.1,228.7 430.2,227.3 432.3,226.6 433,223.8 435.8,222.68 442.8,224.08 444.2,226.6 448.4,239.2 454,254.6 456.8,254.6 459.6,257.4 461,257.4 462.4,261.6 465.2,264.4 468,266.08 494.6,266.08" fill="none" stroke="#22a884" stroke-width="1.4" stroke-linejoin="round"/>
<text x="361.5" y="224.2" class="p">(F1)</text>
<rect x="360.5" y="274.7" width="134.1" height="49.8" fill="none" stroke="#6f6f6f" stroke-width="1"/>
<line x1="402.3" y1="324.5" x2="402.3" y2="322.1" stroke="#6f6f6f" stroke-width="0.95"/>
<line x1="402.3" y1="274.7" x2="402.3" y2="277.1" stroke="#6f6f6f" stroke-width="0.95"/>
<line x1="454.6" y1="324.5" x2="454.6" y2="322.1" stroke="#6f6f6f" stroke-width="0.95"/>
<line x1="454.6" y1="274.7" x2="454.6" y2="277.1" stroke="#6f6f6f" stroke-width="0.95"/>
<line x1="360.5" y1="324.5" x2="362.9" y2="324.5" stroke="#6f6f6f" stroke-width="0.95"/>
<line x1="494.6" y1="324.5" x2="492.2" y2="324.5" stroke="#6f6f6f" stroke-width="0.95"/>
<text x="359" y="326.9" text-anchor="end" class="t">0</text>
<line x1="360.5" y1="299.6" x2="362.9" y2="299.6" stroke="#6f6f6f" stroke-width="0.95"/>
<line x1="494.6" y1="299.6" x2="492.2" y2="299.6" stroke="#6f6f6f" stroke-width="0.95"/>
<text x="359" y="302" text-anchor="end" class="t">150</text>
<line x1="360.5" y1="274.7" x2="362.9" y2="274.7" stroke="#6f6f6f" stroke-width="0.95"/>
<line x1="494.6" y1="274.7" x2="492.2" y2="274.7" stroke="#6f6f6f" stroke-width="0.95"/>
<text x="359" y="277.1" text-anchor="end" class="t">300</text>
<polyline points="366.4,324.08 368.5,321 376.2,321.7 381.1,321.7 386,321 389.5,317.08 394.4,317.5 398.6,316.8 405.6,316.52 416.8,316.52 419.6,314 421,309.1 423.8,307 426,306.3 431.6,304.48 440,305.32 444.2,307.7 447,311.9 452.6,315.4 458.2,318.2 463.8,321.28 467.3,324.08" fill="none" stroke="#7ad151" stroke-width="1.35" stroke-linejoin="round" stroke-dasharray="1.2,0.9"/>
<polyline points="360.1,324.08 366.4,324.08 368.08,320.72 372,321.28 376.2,322.12 381.1,322.4 382.5,320.3 387.4,319.6 388.8,316.1 400,316.52 407,316.8 414,317.08 418.9,317.5 420.3,314 421.7,308.4 423.8,306.3 426,306.3 431.6,304.9 440,305.6 443.5,306.72 445.6,310.5 448.4,314.7 452.6,319.6 458.2,321.28 463.1,324.08 494.6,324.08" fill="none" stroke="#7ad151" stroke-width="1.4" stroke-linejoin="round"/>
<text x="361.5" y="282.1" class="p">(F2)</text>
<rect x="360.5" y="332.7" width="134.1" height="49.5" fill="none" stroke="#6f6f6f" stroke-width="1"/>
<line x1="402.3" y1="382.2" x2="402.3" y2="379.8" stroke="#6f6f6f" stroke-width="0.95"/>
<line x1="402.3" y1="332.7" x2="402.3" y2="335.1" stroke="#6f6f6f" stroke-width="0.95"/>
<text x="402.3" y="390.8" text-anchor="middle" class="p2">Jan 2022</text>
<line x1="454.6" y1="382.2" x2="454.6" y2="379.8" stroke="#6f6f6f" stroke-width="0.95"/>
<line x1="454.6" y1="332.7" x2="454.6" y2="335.1" stroke="#6f6f6f" stroke-width="0.95"/>
<text x="454.6" y="390.8" text-anchor="middle" class="p2">Apr 2022</text>
<line x1="360.5" y1="382.2" x2="362.9" y2="382.2" stroke="#6f6f6f" stroke-width="0.95"/>
<line x1="494.6" y1="382.2" x2="492.2" y2="382.2" stroke="#6f6f6f" stroke-width="0.95"/>
<text x="359" y="384.6" text-anchor="end" class="t">0</text>
<line x1="360.5" y1="357.45" x2="362.9" y2="357.45" stroke="#6f6f6f" stroke-width="0.95"/>
<line x1="494.6" y1="357.45" x2="492.2" y2="357.45" stroke="#6f6f6f" stroke-width="0.95"/>
<text x="359" y="359.85" text-anchor="end" class="t">150</text>
<line x1="360.5" y1="332.7" x2="362.9" y2="332.7" stroke="#6f6f6f" stroke-width="0.95"/>
<line x1="494.6" y1="332.7" x2="492.2" y2="332.7" stroke="#6f6f6f" stroke-width="0.95"/>
<text x="359" y="335.1" text-anchor="end" class="t">300</text>
<polyline points="366.4,382.08 368.5,379.7 376.2,380.68 381.1,381.52 383.2,379.7 388.8,377.6 394.4,376.48 400,377.6 407,377.6 414,378.3 419.6,378.3 421.7,371.3 425.2,371.72 426,372 430.2,372.7 437.2,376.2 444.2,379 451.2,381.52 454,382.08" fill="none" stroke="#fde725" stroke-width="1.35" stroke-linejoin="round" stroke-dasharray="1.2,0.9"/>
<polyline points="360.1,382.08 366.4,382.08 368.08,379.7 370.6,380.4 376.2,381.1 381.1,381.52 383.2,379.28 387.4,379 389.5,375.5 391.6,375.5 394.4,378.3 400,379 402.8,379.7 411.2,380.4 418.2,381.8 420.3,381.8 421.7,374.1 423.8,376.2 425.2,375.5 426,378.3 430.2,379.7 433,380.12 438.6,382.08 494.6,382.08" fill="none" stroke="#fde725" stroke-width="1.4" stroke-linejoin="round"/>
<text x="361.5" y="340.1" class="p">(F3)</text>
<text transform="translate(11.2,90.1) rotate(-90)" text-anchor="middle" class="b">Davos (1400–1550 m), north-facing</text>
<text transform="translate(20,90.1) rotate(-90)" text-anchor="middle" class="y">ΔPeak SWE [mm]</text>
<text transform="translate(182.5,90.1) rotate(-90)" text-anchor="middle" class="y">ΔSDD [d]</text>
<text transform="translate(344.6,32.2) rotate(-90)" text-anchor="middle" class="y">SWE [mm]</text>
<text transform="translate(344.6,90.1) rotate(-90)" text-anchor="middle" class="y">SWE [mm]</text>
<text transform="translate(344.6,147.95) rotate(-90)" text-anchor="middle" class="y">SWE [mm]</text>
<text x="102" y="190.7" text-anchor="middle" class="l">Peak SWE<tspan dy="3.3" font-size="5.9px">open</tspan><tspan dy="-3.3"> [mm]</tspan></text>
<text x="264.5" y="190.7" text-anchor="middle" class="l">Peak SWE<tspan dy="3.3" font-size="5.9px">open</tspan><tspan dy="-3.3"> [mm]</tspan></text>
<text x="427.6" y="190.3" text-anchor="middle" class="l">time [d]</text>
<text transform="translate(11.2,299.6) rotate(-90)" text-anchor="middle" class="b">Davos (1400–1550 m), south-facing</text>
<text transform="translate(20,299.6) rotate(-90)" text-anchor="middle" class="y">ΔPeak SWE [mm]</text>
<text transform="translate(182.5,299.6) rotate(-90)" text-anchor="middle" class="y">ΔSDD [d]</text>
<text transform="translate(344.6,241.7) rotate(-90)" text-anchor="middle" class="y">SWE [mm]</text>
<text transform="translate(344.6,299.6) rotate(-90)" text-anchor="middle" class="y">SWE [mm]</text>
<text transform="translate(344.6,357.45) rotate(-90)" text-anchor="middle" class="y">SWE [mm]</text>
<text x="102" y="400.2" text-anchor="middle" class="l">Peak SWE<tspan dy="3.3" font-size="5.9px">open</tspan><tspan dy="-3.3"> [mm]</tspan></text>
<text x="264.5" y="400.2" text-anchor="middle" class="l">Peak SWE<tspan dy="3.3" font-size="5.9px">open</tspan><tspan dy="-3.3"> [mm]</tspan></text>
<text x="427.6" y="399.8" text-anchor="middle" class="l">time [d]</text>
<rect x="95.4" y="199" width="178.2" height="10.2" fill="#fff" stroke="#6f6f6f" stroke-width="0.9"/>
<circle cx="110.2" cy="204.1" r="2.4" fill="none" stroke="#333" stroke-width="0.6"/>
<text x="124" y="206.3" class="g">grid cell</text>
<path d="M162.4 200.6L164.6 204.1L162.4 207.6L160.2 204.1Z" fill="none" stroke="#333" stroke-width="0.6"/>
<text x="176" y="206.3" class="g">grid cell SWE(t)</text>
<line x1="223" y1="204.1" x2="247.5" y2="204.1" stroke="#111" stroke-width="1.3" stroke-dasharray="5.5,4"/>
<text x="250" y="206.3" class="g">Δ mean</text>
<rect x="381.2" y="199" width="92.3" height="10.3" fill="#fff" stroke="#6f6f6f" stroke-width="0.9"/>
<line x1="384.3" y1="204.1" x2="409" y2="204.1" stroke="#111" stroke-width="1.2"/>
<text x="410.8" y="206.3" class="g">open</text>
<line x1="429.3" y1="204.1" x2="454.5" y2="204.1" stroke="#111" stroke-width="1" stroke-dasharray="1,0.9"/>
<text x="455.8" y="206.3" class="g">forest</text>
</svg></body></html>
